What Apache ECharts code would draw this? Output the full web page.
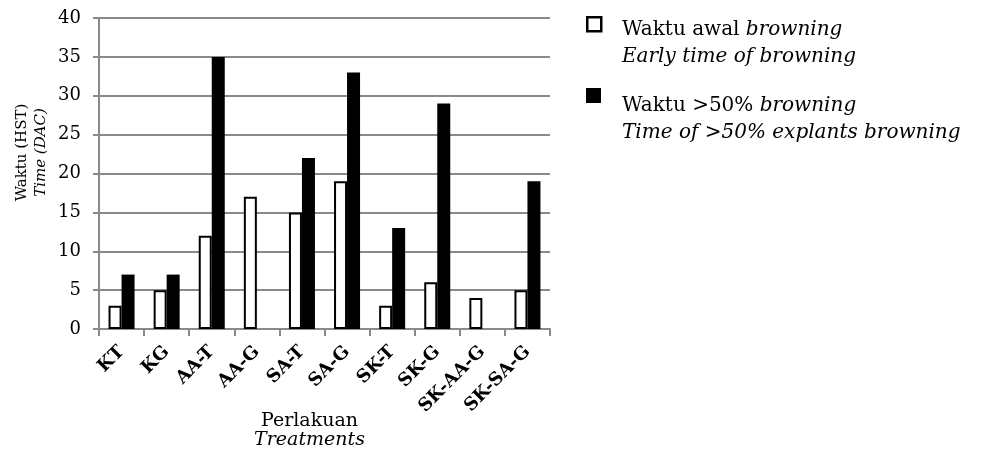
<!DOCTYPE html>
<html>
<head>
    <meta charset="UTF-8">
    <title>Waktu browning</title>
    <script type="text/javascript" src="https://cdn.jsdelivr.net/npm/echarts@6/dist/echarts.min.js"></script>
    <style>
        html, body { margin: 0; padding: 0; background: #fff; }
    </style>
</head>
<body>
<div id="main" style="width: 982px;height:452px;"></div>
<script type="text/javascript">
    // data
    var categories = ['KT', 'KG', 'AA-T', 'AA-G', 'SA-T', 'SA-G', 'SK-T', 'SK-G', 'SK-AA-G', 'SK-SA-G'];
    var awal = [3, 5, 12, 17, 15, 19, 3, 6, 4, 5];
    var lebih50 = [7, 7, 35, null, 22, 33, 13, 29, null, 19];
    var yTicks = [0, 5, 10, 15, 20, 25, 30, 35, 40];

    var serif = '"DejaVu Serif", "Liberation Serif", serif';
    var myChart = echarts.init(document.getElementById('main'));

    var legendRich = {
        a: { fontFamily: serif, fontSize: 20, fill: '#000', lineHeight: 27 },
        b: { fontFamily: serif, fontSize: 20, fontStyle: 'italic', fill: '#000', lineHeight: 27 }
    };

    var option = {
        animation: false,
        backgroundColor: '#fff',
        grid: { left: 99, right: 432, top: 18, bottom: 123, containLabel: false, outerBoundsMode: 'none' },
        xAxis: {
            type: 'category',
            data: categories,
            axisLine: { lineStyle: { color: '#8a8a8a', width: 2 } },
            axisTick: { show: true, length: 7, lineStyle: { color: '#8a8a8a', width: 2 } },
            axisLabel: {
                rotate: 45,
                interval: 0,
                margin: 20,
                color: '#000',
                fontFamily: serif,
                fontWeight: 'bold',
                fontSize: 18
            },
            name: '{a|Perlakuan}\n{b|Treatments}',
            nameLocation: 'middle',
            nameGap: 83,
            nameMoveOverlap: false,
            nameTextStyle: {
                padding: [0, 30, 0, 0],
                rich: {
                    a: { fontFamily: serif, fontSize: 19, color: '#000', lineHeight: 19 },
                    b: { fontFamily: serif, fontSize: 19, fontStyle: 'italic', color: '#000', lineHeight: 19 }
                }
            }
        },
        yAxis: {
            type: 'value',
            min: yTicks[0],
            max: yTicks[yTicks.length - 1],
            interval: 5,
            axisLine: { show: true, lineStyle: { color: '#8a8a8a', width: 2 } },
            axisTick: { show: true, length: 6, lineStyle: { color: '#8a8a8a', width: 2 } },
            splitLine: { lineStyle: { color: '#8a8a8a', width: 2 } },
            axisLabel: {
                color: '#000',
                fontFamily: serif,
                fontSize: 18,
                margin: 18
            },
            name: '{a|Waktu (HST)}\n{b|Time (DAC)}',
            nameLocation: 'middle',
            nameGap: 48,
            nameRotate: 90,
            nameTextStyle: {
                padding: [0, 0, 0, 42],
                rich: {
                    a: { fontFamily: serif, fontSize: 15, color: '#000', lineHeight: 19 },
                    b: { fontFamily: serif, fontSize: 15, fontStyle: 'italic', color: '#000', lineHeight: 19 }
                }
            }
        },
        series: [
            {
                name: 'Waktu awal browning',
                type: 'bar',
                data: awal,
                barWidth: 13,
                barGap: '0%',
                itemStyle: { color: '#fff', borderColor: '#000', borderWidth: 2 }
            },
            {
                name: 'Waktu >50% browning',
                type: 'bar',
                data: lebih50,
                barWidth: 13,
                barGap: '0%',
                itemStyle: { color: '#000' }
            }
        ],
        // legend drawn by hand so the marker sits on the first line
        graphic: [
            { type: 'rect', left: 586, top: 16, shape: { width: 14, height: 14 },
              style: { fill: '#fff', stroke: '#000', lineWidth: 2.5 } },
            { type: 'text', left: 622, top: 20, style: {
                text: '{a|Waktu awal }{b|browning}\n{b|Early time of browning}',
                rich: legendRich
            } },
            { type: 'rect', left: 586, top: 88, shape: { width: 15, height: 15 },
              style: { fill: '#000' } },
            { type: 'text', left: 622, top: 96, style: {
                text: '{a|Waktu >50% }{b|browning}\n{b|Time of >50% explants browning}',
                rich: legendRich
            } }
        ]
    };

    myChart.setOption(option);
</script>
</body>
</html>
